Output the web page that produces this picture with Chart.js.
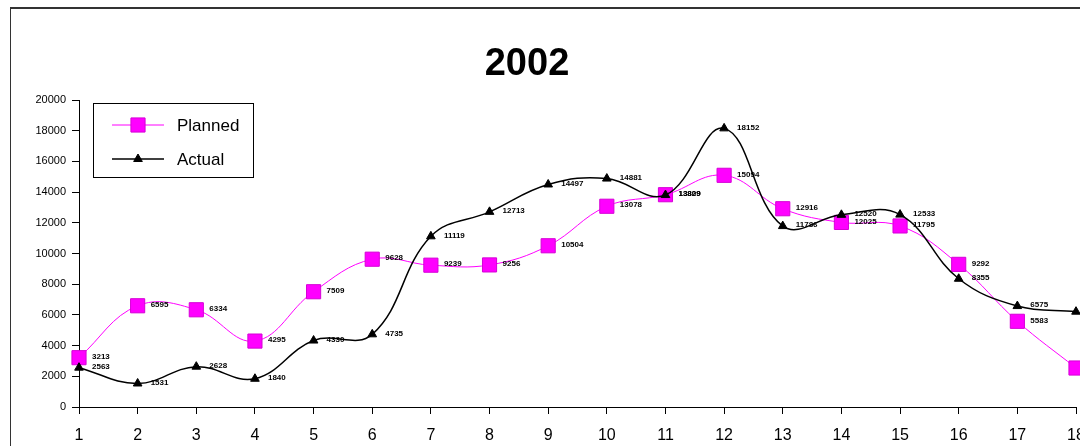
<!DOCTYPE html>
<html>
<head>
<meta charset="utf-8">
<script src="https://cdn.jsdelivr.net/npm/chart.js@4.4.1/dist/chart.umd.min.js"></script>
<style>
  html, body { margin: 0; padding: 0; background: #fff; overflow: hidden; width: 1080px; height: 446px; }
  #frame { position: absolute; left: 10px; top: 7px; border-top: 2px solid #333; border-left: 1px solid #333; }
  canvas { display: block; }
</style>
</head>
<body>
<div id="frame"><canvas id="c" width="1095" height="448"></canvas></div>
<script>
// Periods on the x axis
const periods = ['1','2','3','4','5','6','7','8','9','10','11','12','13','14','15','16','17','18'];
// Planned volume per period
const planned = [3213, 6595, 6334, 4295, 7509, 9628, 9239, 9256, 10504, 13078, 13829, 15094, 12916, 12025, 11795, 9292, 5583, 2540];
// Actual volume per period
const actual = [2563, 1531, 2628, 1840, 4330, 4735, 11119, 12713, 14497, 14881, 13809, 18152, 11786, 12520, 12533, 8355, 6575, 6210];
// Value axis range
const yMin = 0, yMax = 20000, yStep = 2000;
const chartTitle = '2002';

const magenta = '#FF00FF';

// Title, framed legend and value labels drawn on top of the chart
const decorations = {
  id: 'decorations',
  afterDatasetsDraw(chart) {
    const ctx = chart.ctx;
    ctx.save();

    // value labels beside each point
    ctx.font = 'bold 8px "Liberation Sans", Arial, sans-serif';
    ctx.fillStyle = '#000';
    ctx.textAlign = 'left';
    ctx.textBaseline = 'middle';
    chart.data.datasets.forEach((ds, i) => {
      const meta = chart.getDatasetMeta(i);
      meta.data.forEach((pt, j) => {
        ctx.fillText(String(ds.data[j]), pt.x + 13, pt.y - 1);
      });
    });

    // title
    ctx.font = 'bold 38px "Liberation Sans Narrow", "Arial Narrow", Arial, sans-serif';
    ctx.textAlign = 'center';
    ctx.textBaseline = 'middle';
    ctx.fillText(chartTitle, 516, 56);

    // legend box
    const lx = 82, ly = 94, lw = 160, lh = 74;
    ctx.fillStyle = '#fff';
    ctx.fillRect(lx, ly, lw, lh);
    ctx.strokeStyle = '#000';
    ctx.lineWidth = 1;
    ctx.strokeRect(lx + 0.5, ly + 0.5, lw, lh);

    const items = [
      { ds: chart.data.datasets[0], y: ly + 22 },
      { ds: chart.data.datasets[1], y: ly + 56 }
    ];
    items.forEach(it => {
      ctx.strokeStyle = it.ds.borderColor;
      ctx.lineWidth = it.ds.borderWidth;
      ctx.beginPath();
      ctx.moveTo(lx + 19, it.y);
      ctx.lineTo(lx + 71, it.y);
      ctx.stroke();
      ctx.fillStyle = it.ds.pointBackgroundColor;
      ctx.strokeStyle = it.ds.pointBorderColor;
      ctx.lineWidth = it.ds.pointBorderWidth;
      Chart.helpers.drawPoint(ctx, {
        pointStyle: it.ds.pointStyle,
        radius: it.ds.pointRadius,
        borderWidth: it.ds.pointBorderWidth,
        rotation: 0
      }, lx + 45, it.y);
      ctx.fillStyle = '#000';
      ctx.font = '17px "Liberation Sans", Arial, sans-serif';
      ctx.textAlign = 'left';
      ctx.textBaseline = 'middle';
      ctx.fillText(it.ds.label, lx + 84, it.y + 1);
    });

    ctx.restore();
  }
};

new Chart(document.getElementById('c'), {
  type: 'line',
  data: {
    labels: periods,
    datasets: [
      {
        label: 'Planned',
        data: planned,
        borderColor: magenta,
        borderWidth: 1,
        pointStyle: 'rect',
        pointRadius: 10,
        pointBackgroundColor: magenta,
        pointBorderColor: '#D600D6',
        pointBorderWidth: 1,
        tension: 0.4,
        order: 2
      },
      {
        label: 'Actual',
        data: actual,
        borderColor: '#000',
        borderWidth: 1.5,
        pointStyle: 'triangle',
        pointRadius: 5,
        pointBackgroundColor: '#000',
        pointBorderColor: '#000',
        pointBorderWidth: 1,
        tension: 0.4,
        order: 1
      }
    ]
  },
  options: {
    responsive: false,
    animation: false,
    devicePixelRatio: 1,
    layout: { padding: { top: 91, right: 30, bottom: 0, left: 0 } },
    plugins: {
      legend: { display: false },
      title: { display: false },
      tooltip: { enabled: false }
    },
    scales: {
      x: {
        offset: false,
        grid: { drawOnChartArea: false, drawTicks: true, tickLength: 7, color: '#000' },
        border: { display: true, color: '#000', width: 1 },
        ticks: { color: '#000', font: { family: '"Liberation Sans", Arial, sans-serif', size: 16 }, padding: 12, maxRotation: 0, autoSkip: false },
        afterFit(scale) { scale.height = 50; }
      },
      y: {
        min: yMin,
        max: yMax,
        grid: { drawOnChartArea: false, drawTicks: true, tickLength: 7, color: '#000' },
        border: { display: true, color: '#000', width: 1 },
        ticks: {
          stepSize: yStep,
          color: '#000',
          font: { family: '"Liberation Sans", Arial, sans-serif', size: 11 },
          padding: 6,
          callback: (v) => String(v)
        },
        afterFit(scale) { scale.width = 68; }
      }
    }
  },
  plugins: [decorations]
});
</script>
</body>
</html>
